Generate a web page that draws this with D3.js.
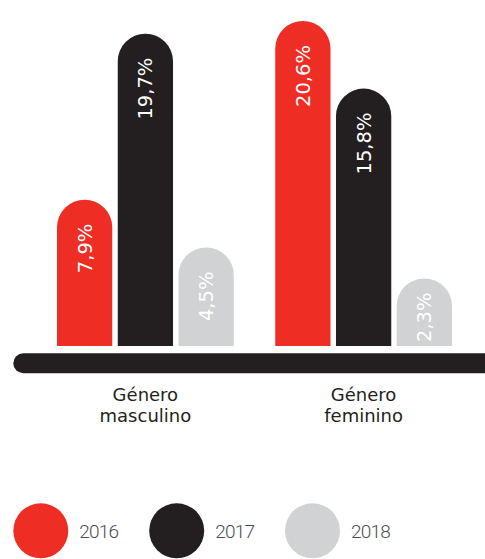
<!DOCTYPE html>
<html>
<head>
<meta charset="utf-8">
<script src="https://cdn.jsdelivr.net/npm/d3@7"></script>
<style>
  html, body { margin: 0; padding: 0; background: #ffffff; }
  svg { display: block; }
</style>
</head>
<body>
<svg id="chart" width="485" height="559"></svg>
<script>
// ---- Data ----
const categories = [["Género", "masculino"], ["Género", "feminino"]];
const categoryKeys = ["masculino", "feminino"];
const years = ["2016", "2017", "2018"];
const values2016 = [7.9, 20.6];
const values2017 = [19.7, 15.8];
const values2018 = [4.5, 2.3];
const colors = ["#ee2e24", "#231f20", "#d1d2d4"];

const seriesValues = [values2016, values2017, values2018];

// ---- Layout ----
const svg = d3.select("#chart");
const baseline = 346;
const fmt = v => d3.format(".1f")(v).replace(".", ",") + "%";

const x0 = d3.scaleBand().domain(categoryKeys).range([57, 452]).paddingInner(0.19).paddingOuter(0);
const x1 = d3.scaleBand().domain(years).range([0, x0.bandwidth()]).paddingInner(0.09).paddingOuter(0);
const y = d3.scaleLinear().domain([-2.5, 20.6]).range([baseline, 21]);

const bars = [];
categoryKeys.forEach((c, ci) => {
  years.forEach((yr, yi) => {
    bars.push({ cat: c, year: yr, yi, ci, value: seriesValues[yi][ci] });
  });
});

function barPath(d) {
  const x = x0(d.cat) + x1(d.year);
  const w = x1.bandwidth();
  const r = w / 2;
  const top = y(d.value);
  return `M${x},${baseline}V${top + r}A${r},${r} 0 0 1 ${x + w},${top + r}V${baseline}Z`;
}

const defs = svg.append("defs");
defs.selectAll("clipPath").data(bars).join("clipPath")
  .attr("id", (d, i) => "clip" + i)
  .append("path").attr("d", barPath);

const g = svg.append("g");
g.selectAll("path.bar").data(bars).join("path")
  .attr("class", "bar")
  .attr("d", barPath)
  .attr("fill", d => colors[d.yi]);

// value labels (rotated)
g.selectAll("g.lbl").data(bars).join("g")
  .attr("class", "lbl")
  .attr("clip-path", (d, i) => `url(#clip${i})`)
  .each(function (d) {
    const cx = x0(d.cat) + x1(d.year) + x1.bandwidth() / 2;
    const top = y(d.value);
    const t = d3.select(this).append("text")
      .attr("font-family", "DejaVu Sans")
      .attr("font-size", "19.5px")
      .attr("fill", "#ffffff")
      .attr("dy", "0.36em")
      .text(fmt(d.value));
    const len = t.node().getComputedTextLength();
    let endY = top + 24;
    if (endY + len > baseline - 4) {
      t.attr("text-anchor", "start")
        .attr("transform", `translate(${cx},${baseline - 4}) rotate(-90)`);
    } else {
      t.attr("text-anchor", "end")
        .attr("transform", `translate(${cx},${endY}) rotate(-90)`);
    }
  });

// baseline bar
svg.append("rect")
  .attr("x", 13.3).attr("y", 353.3)
  .attr("width", 520).attr("height", 20)
  .attr("rx", 10).attr("ry", 10)
  .attr("fill", "#231f20");

// category labels
const catG = svg.append("g");
categories.forEach((lines, i) => {
  const cx = x0(categoryKeys[i]) + x0.bandwidth() / 2;
  lines.forEach((ln, li) => {
    catG.append("text")
      .attr("text-anchor", "middle")
      .attr("font-family", "DejaVu Sans")
      .attr("font-size", "18px")
      .attr("fill", "#231f20")
      .attr("x", cx).attr("y", 400.5 + li * 21).text(ln);
  });
});

// legend
const legendX = [40.8, 176.7, 312.5];
const leg = svg.append("g");
years.forEach((yr, i) => {
  leg.append("circle")
    .attr("cx", legendX[i]).attr("cy", 530.8).attr("r", 27.5)
    .attr("fill", colors[i]);
  leg.append("text")
    .attr("x", legendX[i] + 38.5).attr("y", 537.5)
    .attr("font-family", "Roboto")
    .attr("font-weight", 300)
    .attr("font-size", "19px")
    .attr("letter-spacing", "-0.8px")
    .attr("fill", "#4d4d4f")
    .text(yr);
});
</script>
</body>
</html>
